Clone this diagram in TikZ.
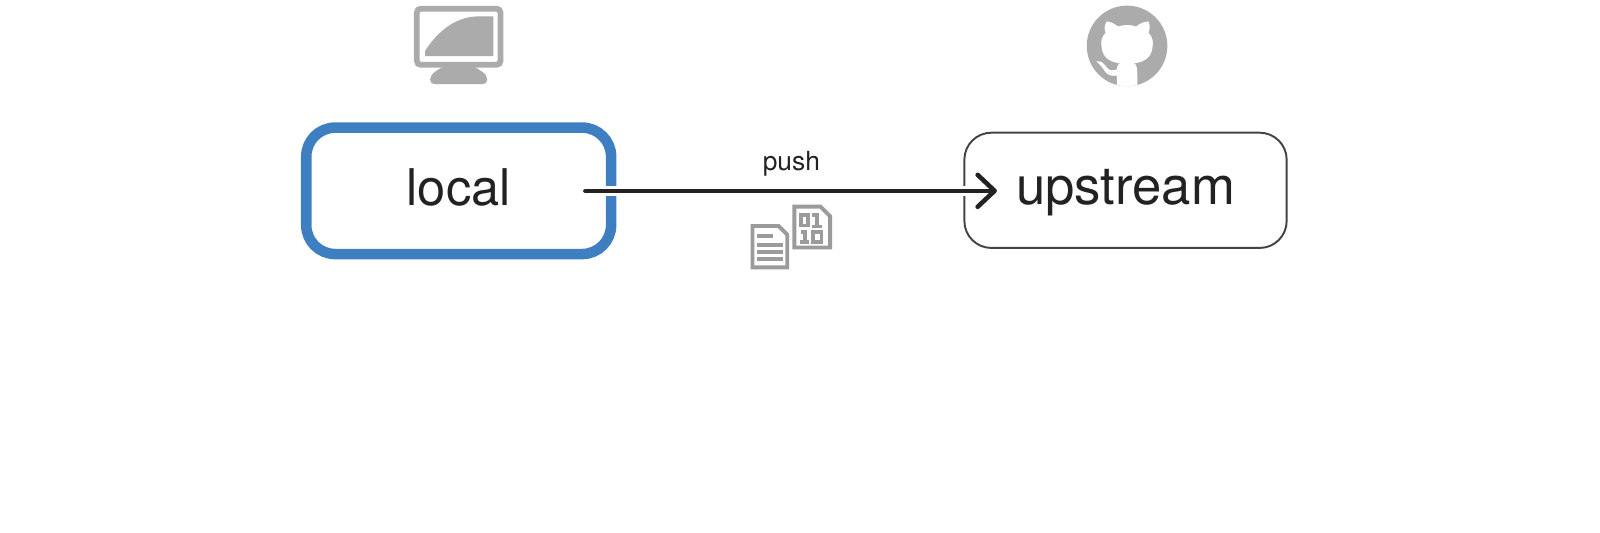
\documentclass[tikz,border=0pt]{standalone}
\usepackage{fontspec}
\setmainfont{TeX Gyre Heros}
\usetikzlibrary{arrows.meta}
\definecolor{azul}{HTML}{3D7FC1}
\definecolor{gris}{HTML}{ABABAC}
\definecolor{grisdoc}{HTML}{9B9B9B}
\definecolor{tinta}{HTML}{222222}
\tikzset{
	caja/.style = {
		draw, align = center, text = tinta, inner sep = 0pt,
		text height = 10pt, text depth = 1.7pt
	},
	flecha/.style = {
		draw = tinta, line width = 1.3pt, line cap = round,
		-{Straight Barb[length = 1.7mm, width = 3.2mm, line cap = round, line join = round]}
	},
	hoja/.style = {draw = grisdoc, fill = white, line width = 1.1pt, line join = miter},
	renglon/.style = {draw = grisdoc, line width = 1.1pt}
}

\begin{document}
\begin{tikzpicture}[x = 0.010204cm, y = -0.010204cm]

	% márgenes del dibujo
	\useasboundingbox (0,0) rectangle (1568,521.36);

	% cajas
	\node[caja, draw = azul, line width = 3pt, rounded corners = 0.29cm,
		font = \fontsize{14.4}{16}\selectfont,
		minimum width = 3.05cm, minimum height = 1.265cm] (local) at (449.5,187) {local};
	\node[caja, draw = tinta!85, line width = 0.55pt, rounded corners = 0.27cm,
		font = \fontsize{15}{17}\selectfont,
		minimum width = 3.224cm, minimum height = 1.153cm] (upstream) at (1103,186.5) {upstream};

	% extremos de la flecha
	\coordinate (ini) at ([xshift = -0.31cm]local.east);
	\coordinate (fin) at ([xshift = 0.335cm]ini -| upstream.west);

	% flecha con halo blanco
	\draw[white, line width = 2.9pt] (ini) -- (fin);
	\draw[flecha] (ini) -- (fin);

	\node[text = tinta, inner sep = 0pt, font = \fontsize{7.5}{9}\selectfont] (etiqueta) at (775.5,160) {push};

	% monitor
	\begin{scope}[shift = {(449.5,45)}]
		\fill[gris] (-14,20) .. controls (-20,23) and (-28,27) .. (-28,33)
			.. controls (-28,36) and (-26,37.5) .. (-23,37.5) -- (23,37.5)
			.. controls (26,37.5) and (28,36) .. (28,33)
			.. controls (28,27) and (20,23) .. (14,20) -- cycle;
		\draw[gris, fill = white, line width = 1.65pt, rounded corners = 0.04cm]
			(-41,-36.5) rectangle (41,18.5);
		\fill[gris] (-33,10) -- (-33,5) .. controls (-24,-9) and (-7,-29) .. (20,-29)
			-- (34,-29) -- (34,10) -- cycle;
	\end{scope}

	% logo
	\begin{scope}[shift = {(1104.5,45)}]
		\fill[gris] (0,0) circle (39.5);
		\begin{scope}
			\clip (0,0) circle (39.5);
			\fill[white] (-20,-24) .. controls (-16,-24) and (-11,-21) .. (-9,-19)
				.. controls (-4,-21) and (4,-21) .. (9,-19)
				.. controls (11,-21) and (16,-24) .. (21,-24)
				.. controls (23,-19) and (22,-15) .. (21,-13)
				.. controls (25,-9) and (26,-4) .. (25,1)
				.. controls (24,12) and (16,16) .. (7,17)
				.. controls (10,19) and (10,23) .. (10,28)
				-- (10,42) -- (-10,42) -- (-10,29)
				.. controls (-17,30) and (-20,28) .. (-23,23)
				.. controls (-25,20) and (-27,18) .. (-30,15)
				.. controls (-25,14) and (-22,18) .. (-20,21)
				.. controls (-17,25) and (-13,24) .. (-10,23)
				.. controls (-10,20) and (-9,18) .. (-7,17)
				.. controls (-16,16) and (-24,12) .. (-25,1)
				.. controls (-26,-4) and (-25,-9) .. (-21,-13)
				.. controls (-22,-15) and (-23,-19) .. (-20,-24) -- cycle;
		\end{scope}
	\end{scope}

	% documento de texto
	\begin{scope}[shift = {(736,220)}]
		\draw[hoja] (1.5,1.5) -- (27,1.5) -- (35.5,10) -- (35.5,42) -- (1.5,42) -- cycle;
		\draw[renglon] (6,11) -- (22,11) (6,20) -- (31,20) (6,27) -- (31,27) (6,34) -- (31,34);
	\end{scope}

	% documento binario
	\begin{scope}[shift = {(777,201)}]
		\draw[hoja] (1.5,1.5) -- (27,1.5) -- (36.5,11) -- (36.5,41.5) -- (1.5,41.5) -- cycle;
		\draw[renglon] (8,10) rectangle (15,20);
		\draw[renglon] (19,10) -- (24,10) -- (24,21) (19,21) -- (29,21);
		\draw[renglon] (8,26) -- (12,26) -- (12,36) (7,36) -- (16,36);
		\draw[renglon] (20,26) rectangle (28,36);
	\end{scope}

\end{tikzpicture}
\end{document}
